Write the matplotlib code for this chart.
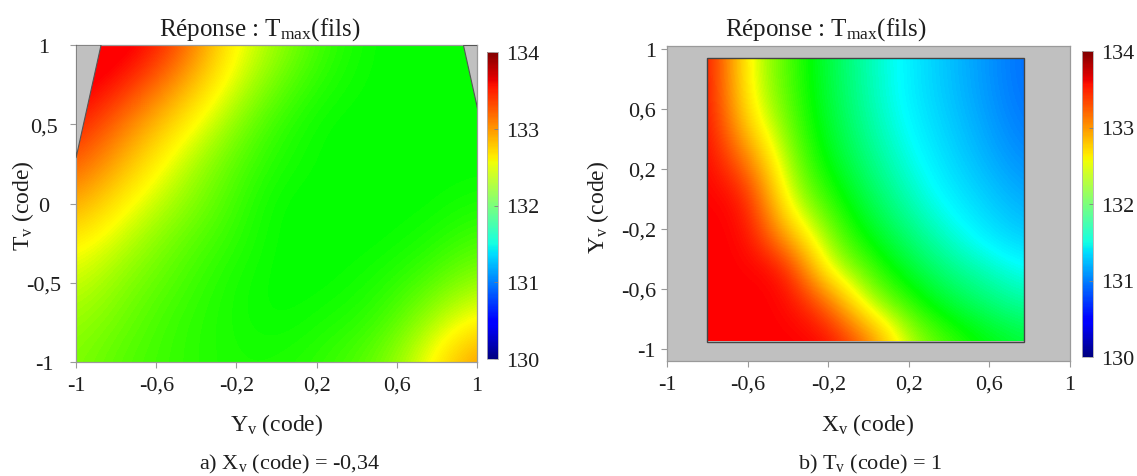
import numpy as np
import matplotlib
matplotlib.use("Agg")
import matplotlib.pyplot as plt
from matplotlib.colors import LinearSegmentedColormap, Normalize
from matplotlib.patches import Polygon, Rectangle
from matplotlib.cm import ScalarMappable

plt.rcParams['font.family'] = ['Liberation Serif', 'DejaVu Serif']
plt.rcParams['mathtext.default'] = 'regular'

# ---- data ----
# a) Xv = -0,34 : columns Yv, rows Tv (bottom -> top)
yv_a = [-1, -0.75, -0.5, -0.25, 0, 0.25, 0.5, 0.75, 1]
tv_a = [-1, -0.75, -0.5, -0.25, 0, 0.25, 0.5, 0.75, 1]
tmax_a = [
    [132.25, 132.15, 132.10, 132.05, 132.05, 132.10, 132.20, 132.45, 132.95],
    [132.30, 132.20, 132.10, 132.05, 132.00, 132.05, 132.10, 132.30, 132.55],
    [132.40, 132.25, 132.15, 132.05, 132.00, 132.00, 132.05, 132.15, 132.30],
    [132.55, 132.35, 132.20, 132.10, 132.00, 132.00, 132.00, 132.05, 132.15],
    [132.85, 132.50, 132.30, 132.15, 132.00, 132.00, 132.00, 132.00, 132.05],
    [133.15, 132.75, 132.40, 132.20, 132.05, 132.00, 132.00, 132.00, 132.00],
    [133.40, 133.00, 132.60, 132.30, 132.10, 132.00, 132.00, 132.00, 132.00],
    [133.60, 133.35, 132.90, 132.45, 132.20, 132.05, 132.00, 132.00, 132.00],
    [133.70, 133.60, 133.25, 132.55, 132.30, 132.10, 132.00, 132.00, 132.00],
]
# grey (out of domain) corners of plot a
gray_tl = [(-1, 1), (-0.875, 1), (-1, 0.287)]
gray_tr = [(0.93, 1), (1, 1), (1, 0.60)]

# b) Tv = 1 : columns Xv, rows Yv (bottom -> top)
xv_b = [-0.8, -0.60375, -0.4075, -0.21125, -0.015, 0.18125, 0.3775, 0.57375, 0.77]
yv_b = [-0.95, -0.71375, -0.4775, -0.24125, -0.005, 0.23125, 0.4675, 0.70375, 0.94]
tmax_b = [
    [133.5, 133.5, 133.5, 133.5, 133.12, 132.38, 132.15, 132.00, 131.90],
    [133.5, 133.5, 133.5, 133.2, 132.38, 132.13, 131.92, 131.80, 131.70],
    [133.5, 133.5, 133.46, 132.44, 132.17, 131.93, 131.76, 131.65, 131.52],
    [133.5, 133.5, 132.80, 132.26, 131.98, 131.79, 131.61, 131.44, 131.31],
    [133.5, 133.44, 132.41, 132.11, 131.87, 131.67, 131.48, 131.34, 131.20],
    [133.5, 133.08, 132.30, 131.99, 131.78, 131.58, 131.40, 131.25, 131.10],
    [133.5, 132.68, 132.22, 131.93, 131.72, 131.51, 131.35, 131.19, 131.03],
    [133.5, 132.49, 132.17, 131.90, 131.68, 131.47, 131.31, 131.15, 130.99],
    [133.5, 132.47, 132.16, 131.89, 131.67, 131.47, 131.30, 131.14, 130.98],
]

cbar_ticks = [130, 131, 132, 133, 134]
x_ticks = [-1, -0.6, -0.2, 0.2, 0.6, 1]
x_labels = ['-1', '-0,6', '-0,2', '0,2', '0,6', '1']
ya_ticks = [-1, -0.5, 0, 0.5, 1]
ya_labels = ['-1', '-0,5', '0', '0,5', '1']
yb_ticks = [-1, -0.6, -0.2, 0.2, 0.6, 1]
yb_labels = ['-1', '-0,6', '-0,2', '0,2', '0,6', '1']

# ---- colours ----
surf_cmap = LinearSegmentedColormap.from_list('surf', [
    (0.0, (0, 0, 0.5)), (0.125, (0, 0, 1)), (0.25, (0, 0.45, 1)),
    (0.375, (0, 1, 1)), (0.5, (0, 1, 0)), (0.625, (1, 1, 0)),
    (0.75, (1, 0.5, 0)), (0.875, (1, 0, 0)), (1.0, (1, 0, 0))])
norm = Normalize(130, 134)
GREY = '#c0c0c0'
TXT = '#1e1e1e'

W, H = 1137, 477
fig = plt.figure(figsize=(W / 100, H / 100), dpi=100)


def fx(x):
    return x / W


def fy(y):
    return 1 - y / H


def style_axes(ax, ylabels_center):
    for s in ax.spines.values():
        s.set_color('#9a9a9a')
        s.set_linewidth(0.9)
    ax.tick_params(direction='out', length=4, width=0.8, color='#9a9a9a',
                   labelsize=16, labelcolor=TXT)
    ax.tick_params(axis='x', pad=6)
    if ylabels_center:
        ax.tick_params(axis='y', pad=19)
        for lab in ax.get_yticklabels():
            lab.set_ha('center')
    else:
        ax.tick_params(axis='y', pad=4)


# ---- plot a ----
axA = fig.add_axes([fx(76), fy(363), fx(401), 317 / H])
dxa = 0.125
axA.imshow(np.array(tmax_a), origin='lower', cmap=surf_cmap, norm=norm,
           extent=[yv_a[0] - dxa, yv_a[-1] + dxa, tv_a[0] - dxa, tv_a[-1] + dxa],
           interpolation='bicubic', aspect='auto')
for poly in (gray_tl, gray_tr):
    axA.add_patch(Polygon(poly, closed=True, fc=GREY, ec='#555555', lw=0.8, zorder=3))
axA.set_xlim(-1, 1)
axA.set_ylim(-1, 1)
axA.set_xticks(x_ticks, x_labels)
axA.set_yticks(ya_ticks, ya_labels)
style_axes(axA, True)

# ---- plot b ----
axB = fig.add_axes([fx(667), fy(362), fx(403), 315 / H])
axB.set_facecolor(GREY)
dxb = (xv_b[-1] - xv_b[0]) / (len(xv_b) - 1) / 2
dyb = (yv_b[-1] - yv_b[0]) / (len(yv_b) - 1) / 2
imB = axB.imshow(np.array(tmax_b), origin='lower', cmap=surf_cmap, norm=norm,
                 extent=[xv_b[0] - dxb, xv_b[-1] + dxb, yv_b[0] - dyb, yv_b[-1] + dyb],
                 interpolation='bicubic', aspect='auto')
box = Rectangle((xv_b[0], yv_b[0]), xv_b[-1] - xv_b[0], yv_b[-1] - yv_b[0],
                fc='none', ec='#444444', lw=1.0, zorder=3)
axB.add_patch(box)
imB.set_clip_path(box)
axB.set_xlim(-1, 1)
axB.set_ylim(-1.08, 1.02)
axB.set_xticks(x_ticks, x_labels)
axB.set_yticks(yb_ticks, yb_labels)
style_axes(axB, False)

# ---- colour bars ----
sm = ScalarMappable(norm=norm, cmap='jet')
for (x0, x1, y0, y1) in [(487, 498, 53, 360), (1082, 1093, 52, 358)]:
    cax = fig.add_axes([fx(x0), fy(y1), fx(x1 - x0), (y1 - y0) / H])
    cb = fig.colorbar(sm, cax=cax, ticks=cbar_ticks)
    cb.outline.set_edgecolor('#b0b0b0')
    cb.outline.set_linewidth(0.6)
    cax.tick_params(direction='in', length=3, width=0.6, color='#808080',
                    labelsize=16, labelcolor=TXT, pad=6)

# ---- texts ----
title = 'Réponse : T$_{max}$(fils)'
fig.text(fx(260), fy(30), title, ha='center', va='center', fontsize=18, color=TXT)
fig.text(fx(826), fy(30), title, ha='center', va='center', fontsize=18, color=TXT)
fig.text(fx(277), fy(425), 'Y$_{v}$ (code)', ha='center', va='center', fontsize=17, color=TXT)
fig.text(fx(868), fy(425), 'X$_{v}$ (code)', ha='center', va='center', fontsize=17, color=TXT)
fig.text(fx(23), fy(206), 'T$_{v}$ (code)', ha='center', va='center', rotation=90,
         fontsize=17, color=TXT)
fig.text(fx(598), fy(207), 'Y$_{v}$ (code)', ha='center', va='center', rotation=90,
         fontsize=17, color=TXT)
fig.text(fx(290), fy(464), 'a) X$_{v}$ (code) = -0,34', ha='center', va='center',
         fontsize=16, color=TXT)
fig.text(fx(870), fy(464), 'b) T$_{v}$ (code) = 1', ha='center', va='center',
         fontsize=16, color=TXT)

fig.savefig('out.png', dpi=100)
